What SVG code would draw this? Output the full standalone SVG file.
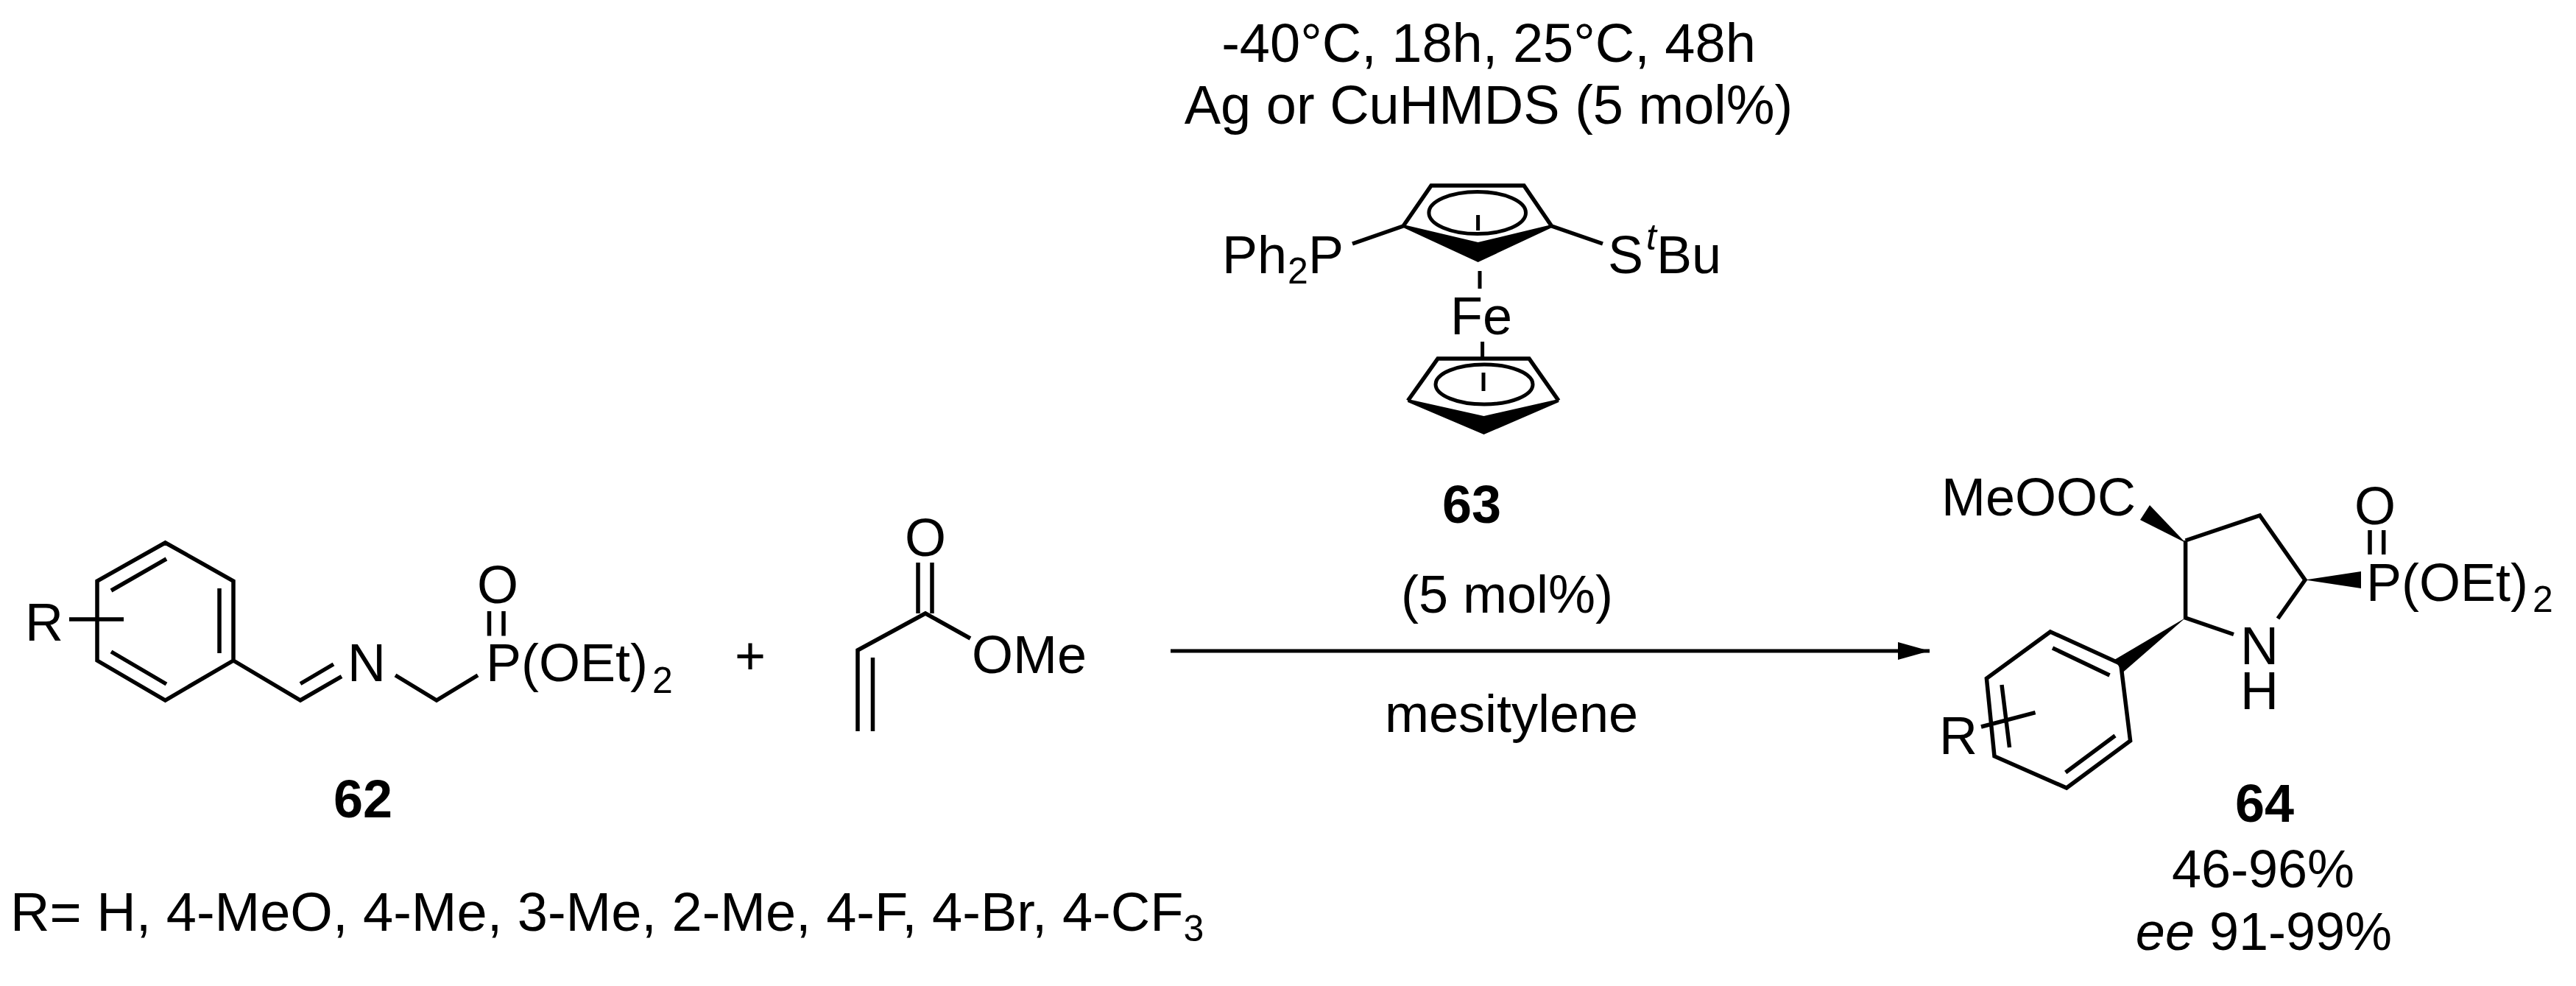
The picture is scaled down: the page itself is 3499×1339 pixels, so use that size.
<svg xmlns="http://www.w3.org/2000/svg" width="3499" height="1339" viewBox="0 0 3499 1339">
<style>
text{font-family:"Liberation Sans",Arial,sans-serif;font-size:72px;fill:#000}
.b{font-weight:bold}
.s{font-size:50px}
.i{font-style:italic}
.m{text-anchor:middle}
.c{font-size:74px}
.l{fill:none;stroke:#000;stroke-width:5.5;stroke-linejoin:miter}
.t{fill:none;stroke:#000;stroke-width:5}
.w{fill:#000;stroke:none}
</style>
<defs>
<marker id="ah" markerUnits="userSpaceOnUse" markerWidth="44" markerHeight="26" refX="43" refY="12.5" orient="auto"><path d="M0 0.5L43 12.5L0 24.500Z" fill="#000"/></marker>
</defs>
<rect width="3499" height="1339" fill="#fff"/>
<g id="node-62">
<path class="l" d="M224.500 737L317 789V897L224.500 951L132 897V789ZM151 802L226 759M298 799V887M151 885L226 929M94 841H168M317 897L408 951L464 918.600M408 928.500L453 902M537 917L593 951L649 917M664.500 830V863.500M684 830V863.500"/>
<text x="34" y="870">R</text>
<text x="472" y="925">N</text>
<text x="648" y="819">O</text>
<text x="660" y="925">P(OEt)</text>
<text class="s" x="886" y="941">2</text>
<text class="b m" x="493" y="1110">62</text>
<text class="c" x="14" y="1264">R= H, 4-MeO, 4-Me, 3-Me, 2-Me, 4-F, 4-Br, 4-CF<tspan class="s" dy="14">3</tspan></text>
</g>
<g id="node-plus"><text class="m" x="1019" y="915">+</text></g>
<g id="node-acrylate">
<path class="l" d="M1247 764V833M1266 764V833M1318 867L1257 833L1165 883V993M1185.500 893V993"/>
<text x="1229" y="755">O</text>
<text x="1320" y="914">OMe</text>
</g>
<g id="node-conditions">
<text class="m c" x="2022" y="84">-40°C, 18h, 25°C, 48h</text>
<text class="m c" x="2022" y="168">Ag or CuHMDS (5 mol%)</text>
</g>
<g id="node-63">
<path class="l" d="M1906 307L1944 252H2070L2107.600 307M1837 331L1906 307M2107.600 307L2177 331"/>
<polygon class="w" points="1906,305 2007.600,329 2107.600,305 2108,309 2007.600,356 1906,309"/>
<ellipse class="t" cx="2006.700" cy="289" rx="65.800" ry="28.600"/>
<path class="t" d="M2007.600 292V313M2010 368V392M2013.600 464V487M2015 506V531"/>
<path class="l" d="M1912.400 544L1953 487H2077L2117 544"/>
<polygon class="w" points="1912.400,542 2015.500,565 2117,542 2117.500,546 2015.500,590 1912,546"/>
<ellipse class="t" cx="2016" cy="522" rx="66" ry="27"/>
<text x="1660" y="371">Ph</text>
<text class="s" x="1749" y="385">2</text>
<text x="1777" y="371">P</text>
<text x="2184" y="371">S</text>
<text class="s i" x="2236" y="339">t</text>
<text x="2250" y="371">Bu</text>
<text x="1970" y="454">Fe</text>
<text class="b m" x="1999" y="710">63</text>
</g>
<g id="node-64">
<path class="l" d="M2968.600 734L3069.500 700L3131 787.600L3094 840M3034 861.500L2968.600 839V734M2785 858L2880.700 901.600L2893.600 1006L2807 1070L2709 1027L2698.400 921.400ZM2788 880L2865.500 917M2873 999L2805.700 1049M2719 930L2729.500 1015M2691 987L2764.600 967.600M3219 720V753M3237.700 720V753"/>
<polygon class="w" points="2968.600,737 2920,686 2907,706"/>
<polygon class="w" points="3131,787.600 3207,776 3207,799"/>
<polygon class="w" points="2968.600,839 2872,896 2883.600,913"/>
<text x="2637" y="700">MeOOC</text>
<text x="3198" y="712">O</text>
<text x="3214" y="816">P(OEt)</text>
<text class="s" x="3440" y="831">2</text>
<text x="3043" y="902">N</text>
<text x="3043" y="963">H</text>
<text x="2634" y="1024">R</text>
<text class="b m" x="3076" y="1116">64</text>
<text class="m" x="3074" y="1205">46-96%</text>
<text class="m" x="3075" y="1290"><tspan class="i">ee</tspan> 91-99%</text>
</g>
<g id="node-arrow-labels">
<text class="m" x="2047" y="832">(5 mol%)</text>
<text class="m" x="2053" y="994">mesitylene</text>
</g>
<g id="connectors">
<line x1="1590" y1="884" x2="2621" y2="884" stroke="#000" stroke-width="5" marker-end="url(#ah)"/>
</g>
</svg>
